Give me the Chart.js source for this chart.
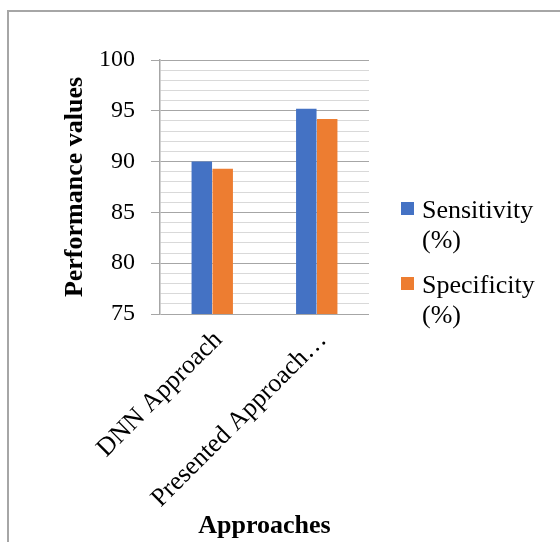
<!DOCTYPE html>
<html>
<head>
<meta charset="utf-8">
<script src="https://cdn.jsdelivr.net/npm/chart.js@4.4.1/dist/chart.umd.min.js"></script>
<style>
  html, body { margin: 0; padding: 0; background: #fff; overflow: hidden; width: 560px; height: 542px; }
  #frame { position: absolute; left: 7px; top: 10px; width: 700px; height: 700px; border: 2px solid #a6a6a6; box-sizing: border-box; }
  #wrap { position: absolute; left: 0; top: 0; width: 560px; height: 542px; }
  #legend { position: absolute; left: 401px; top: 195px; font-family: "Liberation Serif", "Times New Roman", serif; font-size: 26px; line-height: 30px; color: #000; }
  .item { position: relative; padding-left: 21px; width: 125px; margin-bottom: 15px; }
  .box { position: absolute; left: 0; top: 7px; width: 13px; height: 13px; }
</style>
</head>
<body>
<div id="frame"></div>
<div id="wrap"><canvas id="c" width="560" height="542"></canvas></div>
<div id="legend"></div>
<script>
const categories = ['DNN Approach', 'Presented Approach\u2026'];
const seriesNames = ['Sensitivity (%)', 'Specificity (%)'];
const sensitivity = [90.0, 95.2];
const specificity = [89.3, 94.2];
const seriesColors = ['#4472C4', '#ED7D31'];
const yMin = 75, yMax = 100, yMinorStep = 1, yMajorStep = 5;
const yTitle = 'Performance values';
const xTitle = 'Approaches';

const serif = '"Liberation Serif", "Times New Roman", serif';

const chart = new Chart(document.getElementById('c'), {
  type: 'bar',
  data: {
    labels: categories,
    datasets: [
      { label: seriesNames[0], data: sensitivity, backgroundColor: seriesColors[0], categoryPercentage: 0.4, barPercentage: 0.98 },
      { label: seriesNames[1], data: specificity, backgroundColor: seriesColors[1], categoryPercentage: 0.4, barPercentage: 0.98 }
    ]
  },
  options: {
    responsive: false,
    animation: false,
    layout: { padding: { left: 0, top: 60, right: 191, bottom: 0 } },
    plugins: { legend: { display: false }, tooltip: { enabled: false } },
    scales: {
      x: {
        grid: { display: false },
        border: { display: false },
        ticks: { color: '#000', font: { family: serif, size: 26 }, minRotation: 45, maxRotation: 45, autoSkip: false, padding: 3, labelOffset: 6 },
        title: { display: true, text: xTitle, color: '#000', font: { family: serif, size: 26, weight: 'bold' }, padding: { top: 0, bottom: 0 } },
        afterFit: (s) => { s.height = 228; }
      },
      y: {
        min: yMin, max: yMax,
        grid: {
          color: (ctx) => (ctx.tick && ctx.tick.value % yMajorStep === 0) ? '#a6a6a6' : '#d9d9d9',
          tickColor: (ctx) => (ctx.tick && ctx.tick.value % yMajorStep === 0) ? '#a6a6a6' : 'rgba(0,0,0,0)',
          tickLength: 9,
          lineWidth: 1
        },
        border: { display: true, color: '#a6a6a6', width: 1.5 },
        ticks: {
          stepSize: yMinorStep, autoSkip: false, color: '#000', padding: 16,
          font: { family: serif, size: 24 },
          callback: (v) => (v % yMajorStep === 0 ? v : '')
        },
        title: { display: true, text: yTitle, color: '#000', font: { family: serif, size: 26, weight: 'bold' }, padding: { top: 60, bottom: 0 } },
        afterFit: (s) => { s.width = 160; }
      }
    }
  }
});

const legend = document.getElementById('legend');
chart.data.datasets.forEach((ds) => {
  const item = document.createElement('div');
  item.className = 'item';
  const box = document.createElement('span');
  box.className = 'box';
  box.style.background = ds.backgroundColor;
  item.appendChild(box);
  item.appendChild(document.createTextNode(ds.label));
  legend.appendChild(item);
});
</script>
</body>
</html>
